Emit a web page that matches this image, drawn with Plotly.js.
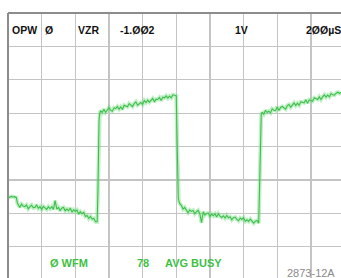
<!DOCTYPE html>
<html>
<head>
<meta charset="utf-8">
<script src="https://cdn.plot.ly/plotly-3.0.1.min.js"></script>
<style>
html,body{margin:0;padding:0;background:#fff;overflow:hidden;}
#chart{width:341px;height:278px;}
</style>
</head>
<body>
<div id="chart"></div>
<script>
var timeUs = [
  0,10,20,30,40,50,55,60,70,80,90,100,110,120,130,140,150,160,170,180,190,200,210,220,230,240,250,260,270,280,290,300,310,320,330,340,350,360,370,380,390,400,410,420,430,440,450,460,470,480,490,500,510,520,530,
  535,538,541,
  545,550,560,570,580,590,600,610,620,630,640,650,660,670,680,690,700,710,720,730,740,750,760,770,780,790,800,810,820,830,840,850,860,870,880,890,900,910,920,930,940,950,960,970,980,990,1000,
  1005,1008,1012,
  1015,1020,1030,1040,1050,1060,1070,1080,1090,1100,1110,1120,1130,1140,1150,1160,1170,1180,1190,1200,1210,1220,1230,1240,1250,1260,1270,1280,1290,1300,1310,1320,1330,1340,1350,1360,1370,1380,1390,1400,1410,1420,1430,1440,1450,1460,1470,1480,1490,
  1495,1500,1505,
  1510,1520,1530,1540,1550,1560,1570,1580,1590,1600,1610,1620,1630,1640,1650,1660,1670,1680,1690,1700,1710,1720,1730,1740,1750,1760,1770,1780,1790,1800,1810,1820,1830,1840,1850,1860,1870,1880,1890,1900,1910,1920,1930,1940,1950,1960,1970,1980
];
var volts = [
  -1.50,-1.52,-1.49,-1.51,-1.50,-1.53,-1.68,-1.74,-1.82,-1.72,-1.78,-1.80,-1.75,-1.86,-1.79,-1.75,-1.83,-1.82,-1.74,-1.85,-1.80,-1.88,-1.79,-1.83,-1.88,-1.80,-1.86,-1.80,-1.88,-1.62,-1.87,-1.82,-1.92,-1.84,-1.82,-1.92,-1.87,-1.92,-1.84,-1.96,-1.89,-1.94,-1.90,-2.02,-1.95,-2.01,-1.97,-2.09,-2.06,-2.15,-2.09,-2.17,-2.15,-2.25,-2.25,
  -1.20,0.00,0.80,
  0.98,1.08,1.02,1.12,1.02,1.09,1.17,1.09,1.06,1.16,1.14,1.20,1.12,1.19,1.11,1.24,1.22,1.19,1.29,1.23,1.20,1.29,1.34,1.24,1.29,1.32,1.26,1.38,1.32,1.39,1.33,1.38,1.44,1.34,1.42,1.41,1.47,1.38,1.48,1.46,1.52,1.45,1.51,1.46,1.55,1.54,1.52,
  0.20,-1.00,-1.55,
  -1.62,-1.70,-1.76,-1.87,-1.82,-1.91,-1.98,-1.90,-1.94,-1.91,-2.01,-1.95,-1.91,-2.01,-2.28,-1.95,-2.05,-2.00,-1.99,-2.09,-2.02,-2.07,-2.01,-2.11,-2.01,-2.08,-2.12,-2.07,-2.14,-2.06,-2.13,-2.10,-2.19,-2.13,-2.11,-2.18,-2.22,-2.14,-2.18,-2.13,-2.24,-2.19,-2.24,-2.17,-2.24,-2.29,-2.23,-2.21,-2.29,
  -1.00,0.60,0.95,
  1.03,0.97,1.09,1.02,1.06,1.01,1.13,1.09,1.08,1.19,1.08,1.17,1.20,1.16,1.12,1.23,1.26,1.18,1.24,1.31,1.23,1.30,1.24,1.34,1.33,1.31,1.40,1.30,1.40,1.38,1.36,1.46,1.44,1.41,1.49,1.41,1.49,1.55,1.48,1.54,1.49,1.59,1.55,1.54,1.60,1.63,1.59,1.63
];

// Screen readouts
var headerLabels = ["OPW", "Ø", "VZR", "-1.ØØ2", "1V", "2ØØµS"];
var footerLabels = ["Ø WFM", "78", "AVG BUSY"];
var figureTag = "2873-12A";

var green = "#3cbf4a";
var traces = [
  {x: timeUs, y: volts, type: "scatter", mode: "lines",
   line: {color: "rgba(120,220,130,0.45)", width: 4}, hoverinfo: "skip"},
  {x: timeUs, y: volts, type: "scatter", mode: "lines",
   line: {color: green, width: 1.1}, hoverinfo: "skip"}
];

// pixel helpers for text placement (plot area: x 7.5..341, y 13..278)
function px(x){ return (x - 7.5) / 333.5; }
function py(y){ return (278 - y) / 265; }

var hdrX = [10, 43, 76, 118, 233, 304];
var annotations = [];
headerLabels.forEach(function(t, i){
  annotations.push({text: t, xref: "paper", yref: "paper", x: px(hdrX[i]), y: py(30.5),
    xanchor: "left", yanchor: "middle", showarrow: false,
    font: {family: "Liberation Sans, Arial, sans-serif", size: 10.5, color: "#111", weight: "bold"}});
});
var ftrX = [48, 135, 163];
footerLabels.forEach(function(t, i){
  annotations.push({text: t, xref: "paper", yref: "paper", x: px(ftrX[i]), y: py(263),
    xanchor: "left", yanchor: "middle", showarrow: false,
    font: {family: "Liberation Sans, Arial, sans-serif", size: 11, color: "#3fbf45", weight: "bold"}});
});
annotations.push({text: figureTag, xref: "paper", yref: "paper", x: px(285), y: py(273),
  xanchor: "left", yanchor: "middle", showarrow: false,
  font: {family: "Liberation Sans Narrow, Liberation Sans, Arial, sans-serif", size: 11, color: "#8a8a8a"}});

var yRange = [-3.934, 4];
var xRange = [0, 1979];
var center = (0 - yRange[0]) / (yRange[1] - yRange[0]);

var layout = {
  width: 341, height: 278,
  margin: {l: 7.5, r: 0, t: 13, b: 0, pad: 0},
  paper_bgcolor: "#ffffff", plot_bgcolor: "#ffffff",
  showlegend: false,
  xaxis: {range: xRange, dtick: 200, tick0: 0, showgrid: true, gridcolor: "#c4c4c4", gridwidth: 1.3,
    zeroline: false, showline: false, showticklabels: false, ticks: "", fixedrange: true},
  yaxis: {range: yRange, dtick: 1, tick0: 0, showgrid: true, gridcolor: "#c4c4c4", gridwidth: 1.3,
    zeroline: false, showline: false, showticklabels: false, ticks: "", fixedrange: true},
  xaxis2: {overlaying: "x", anchor: "free", position: center, range: xRange, dtick: 200, tick0: 0,
    showgrid: false, zeroline: false, showline: false, showticklabels: false,
    ticks: "outside", ticklen: 3, tickwidth: 1.5, tickcolor: "#888"},
  xaxis3: {overlaying: "x", anchor: "free", position: center, range: xRange, dtick: 200, tick0: 0,
    showgrid: false, zeroline: false, showline: false, showticklabels: false,
    ticks: "inside", ticklen: 3, tickwidth: 1.5, tickcolor: "#888"},
  shapes: [
    {type: "line", xref: "paper", yref: "paper", x0: 0, x1: 0, y0: 0, y1: 1, line: {color: "#8c8c8c", width: 2}},
    {type: "line", xref: "paper", yref: "paper", x0: 0, x1: 1, y0: 1, y1: 1, line: {color: "#8c8c8c", width: 2}}
  ],
  annotations: annotations
};

Plotly.newPlot("chart", traces, layout, {staticPlot: true, displayModeBar: false});
</script>
</body>
</html>
